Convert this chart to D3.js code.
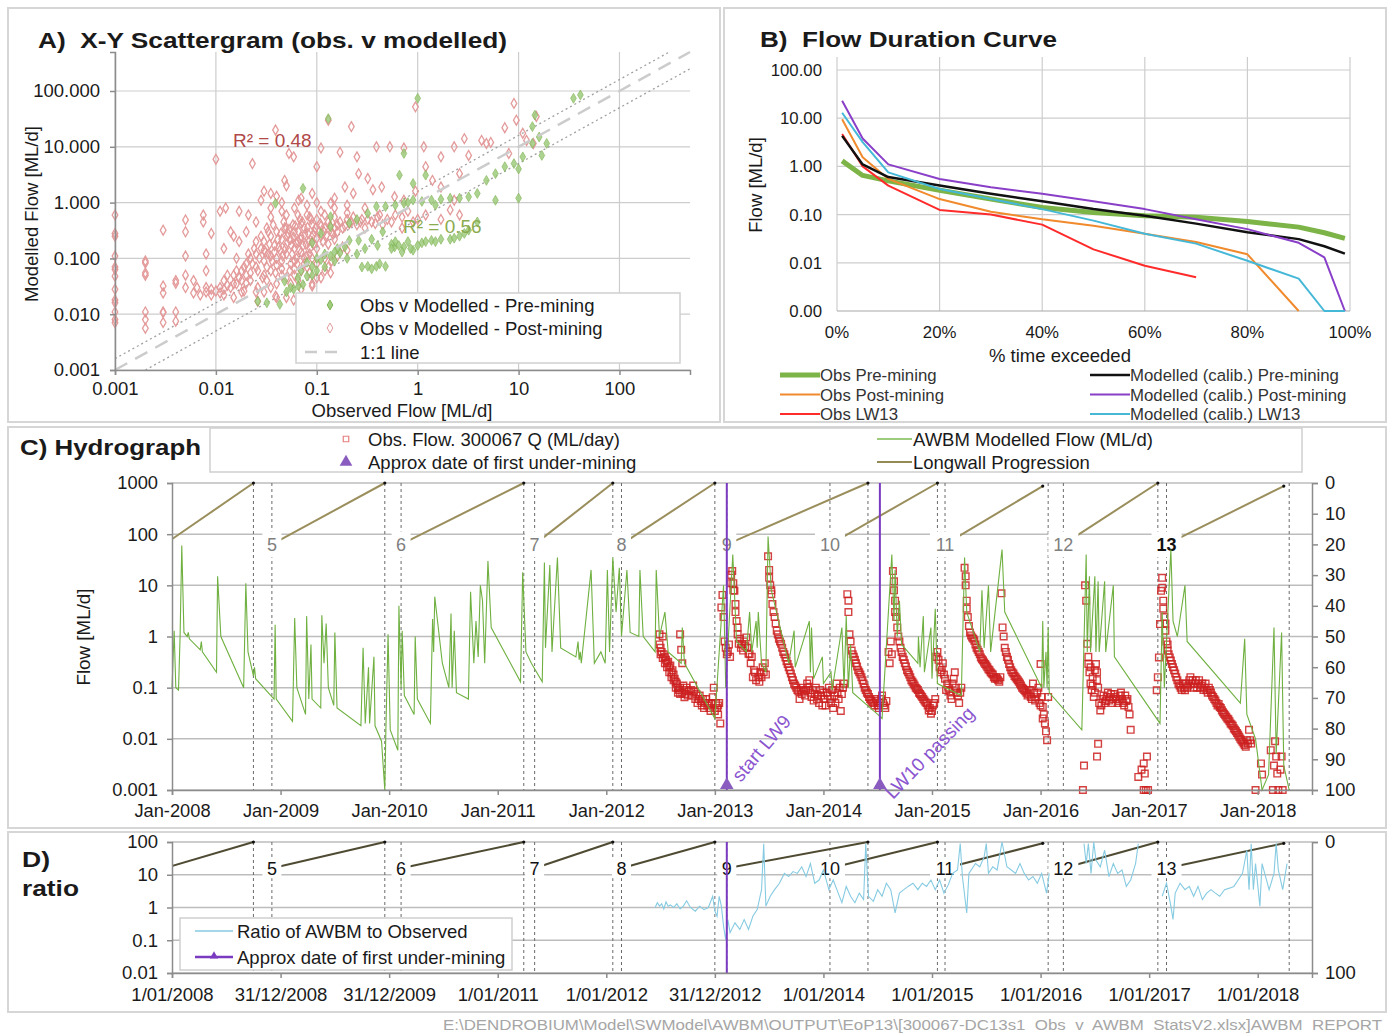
<!DOCTYPE html>
<html>
<head>
<meta charset="utf-8">
<script src="https://cdnjs.cloudflare.com/ajax/libs/d3/7.8.5/d3.min.js"></script>
<style>
  body { margin: 0; background: #fff; }
  svg { font-family: "Liberation Sans", Arial, sans-serif; }
  svg text { white-space: pre; }
</style>
</head>
<body>
<svg id="chart" width="1388" height="1033"></svg>
<script>
// ---------------- data ----------------
// A) scattergram [observed, modelled]
var scatterPre = [[0.026,0.017],[0.032,0.016],[0.043,0.015],[0.059,0.028],[0.066,0.032],[0.08,0.048],[0.09,0.072],[0.11,0.095],
  [0.137,0.11],[0.17,0.125],[0.19,0.16],[0.21,0.21],[0.26,0.21],[0.32,0.072],[0.39,0.072],[0.48,0.072],[0.59,0.16],[0.73,0.16],
  [0.9,0.14],[1.1,0.19],[1.37,0.21],[1.7,0.22],[2.1,0.22],[2.6,0.25],[3.2,0.32],[3.9,0.45],[0.11,0.28],[0.137,0.37],[0.21,0.43],
  [0.32,0.64],[0.48,0.85],[0.73,0.97],[0.9,1.11],[1.37,1.11],[2.1,1.2],[2.6,1.2],[3.2,1.27],[3.9,1.46],[4.8,2.5],[5.9,3.3],
  [7.3,4.4],[9,5],[11,6.6],[13.7,11.5],[16,15],[17,7],[19,11.5],[10,1.2],[5.9,1.1],[10,4],[13.7,23],[14.5,37],[35,74],[41,85],
  [1.0,74],[0.13,32],[0.73,7.6],[0.66,3.1],[1.2,3.1],[0.9,2.2],[0.39,0.85],[0.039,0.97],[0.073,1.8],[0.137,0.56],[0.09,0.19],
  [0.048,0.039],[0.073,0.034],[0.2,0.1],[0.25,0.12],[0.3,0.15],[0.15,0.09],[0.12,0.07],[0.6,0.2],[0.8,0.2],[1.0,0.17],[0.4,0.17],
  [0.55,0.18],[0.7,0.13],[0.09,0.05],[0.1,0.06],[0.16,0.15],[0.35,0.22],[0.45,0.3],[1.5,0.9],[0.25,0.5],[0.08,0.085],
  [0.1,0.1],[0.07,0.06],[0.065,0.045],[0.055,0.03],[0.05,0.025],[0.12,0.12],[0.15,0.13],[0.6,0.9],[0.8,1.0],[1.1,1.05],
  [1.7,1.15],[0.28,0.07],[0.35,0.065],[0.42,0.08],[0.55,0.15],[0.65,0.17],[0.85,0.15],[1.2,0.2],[1.5,0.2],[2.3,0.23],[2.9,0.28]];
var scatterPost = [[0.001,0.6],[0.001,0.28],[0.001,0.25],[0.001,0.11],[0.001,0.07],[0.001,0.063],[0.001,0.048],[0.001,0.028],
  [0.001,0.018],[0.001,0.016],[0.001,0.011],[0.001,0.008],[0.001,0.007],[0.002,0.09],[0.002,0.083],[0.002,0.05],[0.002,0.055],
  [0.002,0.011],[0.002,0.008],[0.002,0.0056],[0.003,0.32],[0.003,0.032],[0.003,0.024],[0.003,0.011],[0.003,0.0107],[0.003,0.0071],
  [0.004,0.04],[0.004,0.036],[0.004,0.011],[0.004,0.0075],[0.005,0.49],[0.005,0.11],[0.005,0.05],[0.005,0.03],[0.005,0.3],
  [0.006,0.024],[0.007,0.022],[0.008,0.025],[0.009,0.028],[0.0065,0.03],[0.01,0.026],[0.011,0.03],[0.012,0.028],[0.013,0.033],
  [0.014,0.03],[0.016,0.035],[0.018,0.04],[0.02,0.036],[0.0075,0.6],[0.0075,0.45],[0.009,0.28],[0.011,0.7],[0.01,6],[0.0125,0.8],
  [0.014,0.3],[0.017,0.2],[0.017,0.7],[0.021,0.6],[0.023,5.0],[0.015,0.05],[0.018,0.06],[0.02,0.08],[0.022,0.1],[0.025,0.12],
  [0.025,0.07],[0.028,0.15],[0.03,0.09],[0.03,0.2],[0.033,0.12],[0.035,0.25],[0.035,0.06],[0.038,0.17],[0.04,0.1],[0.04,0.3],
  [0.043,0.14],[0.045,0.22],[0.045,0.05],[0.048,0.35],[0.05,0.12],[0.05,0.18],[0.052,0.28],[0.055,0.08],[0.055,0.22],[0.058,0.4],
  [0.06,0.15],[0.06,0.3],[0.063,0.1],[0.065,0.2],[0.068,0.5],[0.07,0.25],[0.07,0.13],[0.075,0.35],[0.078,0.18],[0.08,0.6],
  [0.082,0.28],[0.085,0.12],[0.09,0.4],[0.09,0.2],[0.095,0.3],[0.1,0.5],[0.1,0.15],[0.11,0.25],[0.11,0.7],[0.12,0.35],[0.12,0.1],
  [0.13,0.45],[0.14,0.3],[0.15,0.55],[0.16,0.4],[0.18,0.35],[0.2,0.5],[0.22,0.45],[0.25,0.4],[0.28,0.5],[0.3,0.35],[0.35,0.45],
  [0.4,0.55],[0.45,0.4],[0.5,0.5],[0.6,0.6],[0.032,0.04],[0.04,0.035],[0.05,0.045],[0.06,0.05],[0.07,0.06],[0.08,0.07],[0.1,0.08],
  [0.12,0.06],[0.14,0.09],[0.026,0.03],[0.03,0.025],[0.04,0.02],[0.05,0.02],[0.07,0.028],[0.09,0.035],[0.11,0.045],[0.08,0.9],
  [0.06,0.8],[0.045,0.7],[0.035,0.55],[0.025,0.45],[0.02,0.3],[0.015,0.25],[0.025,0.2],[0.032,0.35],[0.028,1.1],[0.04,1.3],
  [0.05,2.0],[0.03,1.6],[0.045,1.0],[0.039,20],[0.053,7.6],[0.059,6.6],[0.13,30],[0.11,9.5],[0.17,8],[0.22,23],[0.25,6.6],
  [0.32,2.7],[0.39,10],[0.53,10],[0.73,9.5],[0.95,52],[1.15,10],[1.2,4.4],[1.7,6.6],[2.3,10],[2.9,14],[3.2,7],[4.3,13],[4.8,11.5],
  [5.3,12],[7.3,22],[8,7.6],[9,60],[9.5,30],[11,17.5],[12,13],[14,11.5],[15,35],[2.6,3.3],[2.3,1.1],[2.1,0.74],[1.7,1.9],[1.4,2.5],
  [0.95,1.6],[0.73,1.1],[0.59,1.27],[0.44,1.9],[0.36,1.7],[0.26,3.3],[0.23,1.46],[0.19,1.9],[0.137,0.97],[0.1,4.4],[0.09,1.46],
  [0.066,1.1],[0.048,2.5],[0.035,1.46],[0.039,0.021],[0.059,0.018],[0.09,0.032],[0.137,0.055],[0.026,0.017],[0.019,0.026],
  [2.6,0.6],[1.7,0.5],[0.7,0.35],[0.9,0.45],[1.2,0.6],[0.3,0.8],[0.2,0.9],[0.15,1.2],[0.065,0.6],[0.05,0.35],[0.07,0.42],
  [0.085,0.55],[0.11,0.38],[0.15,0.22],[0.18,0.16],[0.09,0.1],[0.075,0.08],[0.06,0.065],[0.045,0.09],[0.035,0.11],[0.03,0.14],
  [0.008,0.03],[0.009,0.022],[0.011,0.024],[0.012,0.04],[0.013,0.05],[0.015,0.035],[0.016,0.06],[0.017,0.045],[0.019,0.07],
  [0.02,0.05],[0.021,0.12],[0.022,0.04],[0.023,0.08],[0.024,0.15],[0.026,0.06],[0.027,0.1],[0.028,0.25],[0.029,0.045],
  [0.031,0.13],[0.032,0.07],[0.033,0.3],[0.034,0.18],[0.036,0.09],[0.037,0.4],[0.038,0.13],[0.039,0.055],[0.041,0.22],
  [0.042,0.16],[0.044,0.28],[0.046,0.11],[0.047,0.45],[0.049,0.15],[0.051,0.25],[0.053,0.33],[0.054,0.06],[0.056,0.17],
  [0.057,0.12],[0.059,0.24],[0.061,0.38],[0.062,0.19],[0.064,0.08],[0.066,0.3],[0.067,0.14],[0.069,0.22],[0.072,0.45],
  [0.073,0.17],[0.076,0.27],[0.079,0.11],[0.081,0.36],[0.083,0.2],[0.086,0.15],[0.088,0.5],[0.092,0.26],[0.094,0.18],
  [0.097,0.35],[0.1,0.23],[0.105,0.3],[0.108,0.42],[0.115,0.2],[0.118,0.3],[0.125,0.26],[0.13,0.18],[0.135,0.38],[0.145,0.27],
  [0.15,0.35],[0.16,0.3],[0.17,0.45],[0.19,0.38],[0.21,0.42],[0.23,0.55],[0.27,0.45],[0.32,0.5],[0.38,0.42],[0.42,0.6],
  [0.55,0.45],[0.7,0.55],[0.8,0.7],[1.0,0.5],[0.065,0.04],[0.085,0.055],[0.1,0.045],[0.13,0.07],[0.16,0.11],[0.2,0.14],
  [0.025,0.025],[0.035,0.03],[0.018,0.025],[0.055,0.035],[0.015,0.02],[0.012,0.022],[0.045,0.065],[0.06,0.09],[0.075,0.1],
  [0.04,0.075],[0.03,0.05],[0.022,0.055],[0.016,0.1],[0.012,0.15],[0.008,0.12],[0.008,0.06],[0.006,0.04],[0.1,1.0],[0.07,1.2],
  [0.15,0.8],[0.2,0.65],[0.12,0.6],[0.05,0.6],[0.035,0.8]];
var r2Labels = ['R² = 0.48', 'R² = 0.56'];

// B) flow duration curves
var fdcPct = [1, 5, 10, 20, 30, 40, 50, 60, 70, 80, 90, 95, 99];
var obsPre = [1.3, 0.65, 0.5, 0.32, 0.21, 0.14, 0.11, 0.095, 0.088, 0.072, 0.055, 0.042, 0.032];
var obsPost = [9.5, 1.55, 0.55, 0.21, 0.115, 0.08, 0.059, 0.04, 0.027, 0.015, 0, null, null];
var obsLW13 = [4.7, 1.0, 0.4, 0.125, 0.1, 0.062, 0.019, 0.0087, 0.005, null, null, null, null];
var modPre = [4.3, 1.1, 0.6, 0.4, 0.27, 0.19, 0.13, 0.095, 0.065, 0.043, 0.031, 0.022, 0.0155];
var modPost = [23, 3.8, 1.1, 0.55, 0.37, 0.27, 0.19, 0.13, 0.08, 0.05, 0.026, 0.013, 0];
var modLW13 = [13, 3.2, 0.75, 0.34, 0.21, 0.13, 0.075, 0.04, 0.025, 0.011, 0.0047, 0, 0];

// C) hydrograph [decimal year, ML/d]
var awbmFlow = [[2008.00,0.1],[2008.02,1.3],[2008.035,0.1],[2008.06,0.09],[2008.075,1.1],[2008.09,60],[2008.11,1.2],[2008.14,1.0],
  [2008.15,1.2],[2008.16,0.9],[2008.26,0.55],[2008.27,0.8],[2008.28,0.5],[2008.41,0.2],[2008.42,15],[2008.45,1.0],[2008.66,0.1],
  [2008.68,11],[2008.70,0.5],[2008.75,0.17],[2008.76,0.25],[2008.77,0.15],[2008.94,0.06],[2008.95,1.7],[2008.96,0.06],
  [2009.11,0.022],[2009.13,2.3],[2009.15,0.1],[2009.23,0.03],[2009.24,2.5],[2009.26,0.06],[2009.28,0.7],[2009.29,0.06],
  [2009.37,0.04],[2009.38,2.6],[2009.40,0.3],[2009.42,1.8],[2009.44,0.1],[2009.49,0.045],[2009.50,1.2],[2009.52,0.04],
  [2009.74,0.018],[2009.76,0.6],[2009.78,0.02],[2009.81,0.25],[2009.82,0.02],[2009.86,0.4],[2009.87,0.018],[2009.93,0.009],
  [2009.96,0.001],[2009.97,0.015],[2009.99,1.1],[2010.01,0.015],[2010.08,0.006],[2010.09,4],[2010.11,0.1],[2010.12,1.3],
  [2010.14,0.07],[2010.23,0.03],[2010.24,1.0],[2010.26,0.06],[2010.38,0.02],[2010.40,2.2],[2010.41,0.5],[2010.42,6],
  [2010.49,0.3],[2010.55,0.1],[2010.57,2.8],[2010.58,0.1],[2010.60,1.3],[2010.62,0.08],[2010.73,0.06],[2010.75,7.5],
  [2010.78,0.3],[2010.80,2],[2010.82,0.4],[2010.84,10],[2010.86,5],[2010.88,0.3],[2010.91,30],[2010.94,1.5],[2011.21,0.13],
  [2011.23,18],[2011.26,0.5],[2011.31,0.3],[2011.41,0.13],[2011.43,28],[2011.44,0.6],[2011.48,25],[2011.50,0.5],[2011.55,35],
  [2011.58,0.6],[2011.72,0.4],[2011.74,0.8],[2011.75,0.35],[2011.76,0.5],[2011.77,0.3],[2011.86,20],[2011.89,0.3],[2011.95,0.5],
  [2011.99,0.3],[2012.01,20],[2012.03,0.5],[2012.06,35],[2012.09,3],[2012.12,22],[2012.14,1.0],[2012.19,20],[2012.22,1.2],
  [2012.30,1.0],[2012.31,20],[2012.34,1.0],[2012.45,0.5],[2012.46,20],[2012.49,1.0],[2012.54,3],[2012.57,0.5],[2012.69,0.3],
  [2012.70,1.5],[2012.72,0.3],[2013.00,0.025],[2013.08,10],[2013.10,0.1],[2013.165,40],[2013.20,0.8],[2013.29,0.5],[2013.32,3],
  [2013.34,0.5],[2013.38,2],[2013.39,0.6],[2013.40,3],[2013.43,0.3],[2013.47,0.2],[2013.49,90],[2013.52,8],[2013.68,0.3],
  [2013.73,1.3],[2013.74,0.25],[2013.87,2],[2013.88,0.2],[2013.89,1.5],[2013.91,0.15],[2013.99,0.4],[2014.00,0.12],[2014.07,0.2],
  [2014.08,0.09],[2014.17,1.5],[2014.19,0.1],[2014.21,2.5],[2014.23,0.1],[2014.25,0.7],[2014.27,0.08],[2014.50,0.03],
  [2014.54,0.025],[2014.63,40],[2014.65,2],[2014.66,20],[2014.68,1],[2014.70,5],[2014.72,0.7],[2014.87,0.3],[2014.875,1],
  [2014.89,0.25],[2014.92,2.5],[2014.93,0.2],[2014.99,1.5],[2015.00,0.15],[2015.03,3.5],[2015.05,0.12],[2015.27,0.07],
  [2015.30,35],[2015.32,3],[2015.44,0.5],[2015.46,8],[2015.48,0.6],[2015.52,10],[2015.54,0.5],[2015.645,50],[2015.67,3],
  [2016.01,0.1],[2016.02,2],[2016.03,0.1],[2016.05,0.5],[2016.06,0.1],[2016.07,1.5],[2016.08,0.08],[2016.38,0.015],
  [2016.42,40],[2016.43,0.5],[2016.45,15],[2016.46,0.5],[2016.50,15],[2016.51,0.5],[2016.53,12],[2016.54,0.5],[2016.59,12],
  [2016.60,0.5],[2016.67,10],[2016.68,0.4],[2017.10,0.02],[2017.12,3],[2017.14,0.1],[2017.20,50],[2017.22,2],[2017.26,1],
  [2017.33,10],[2017.35,0.8],[2017.84,0.05],[2017.88,0.9],[2017.90,0.03],[2017.98,0.01],[2018.04,0.001],[2018.10,0.002],
  [2018.15,1.5],[2018.17,0.005],[2018.22,1.2],[2018.24,0.003],[2018.29,0.001]];

var obsFlow = [[2012.49,0.7],[2012.49,1.1],[2012.50,0.6],[2012.51,0.5],[2012.52,1.0],[2012.53,0.45],[2012.54,0.4],[2012.55,0.35],
  [2012.56,0.3],[2012.57,0.32],[2012.58,0.25],[2012.59,0.27],[2012.60,0.2],[2012.61,0.22],[2012.62,0.18],[2012.63,0.15],
  [2012.64,0.13],[2012.65,0.12],[2012.66,0.1],[2012.67,0.09],[2012.68,0.1],[2012.68,1.1],[2012.69,0.55],[2012.70,0.3],
  [2012.70,0.08],[2012.71,0.11],[2012.72,0.09],[2012.73,0.075],[2012.74,0.1],[2012.76,0.085],[2012.78,0.09],[2012.80,0.11],
  [2012.82,0.06],[2012.84,0.05],[2012.86,0.07],[2012.88,0.045],[2012.90,0.04],[2012.92,0.06],[2012.94,0.05],[2012.96,0.035],
  [2012.98,0.065],[2012.99,0.1],[2013.00,0.035],[2013.02,0.04],[2013.03,0.03],[2013.04,0.05],[2013.05,0.02],[2013.06,3.7],
  [2013.07,6.5],[2013.08,2.4],[2013.09,0.8],[2013.10,0.6],[2013.11,0.45],[2013.12,0.5],[2013.13,0.7],[2013.14,0.4],[2013.15,16],
  [2013.16,19],[2013.17,11],[2013.18,7.8],[2013.19,4.3],[2013.20,2.0],[2013.21,1.1],[2013.22,0.72],[2013.24,0.6],[2013.26,0.53],
  [2013.27,0.8],[2013.29,0.96],[2013.30,0.6],[2013.31,0.46],[2013.33,0.3],[2013.34,0.4],[2013.35,0.16],[2013.36,0.22],
  [2013.38,0.14],[2013.40,0.16],[2013.42,0.2],[2013.44,0.25],[2013.46,0.3],[2013.47,0.18],[2013.49,37],[2013.50,14],[2013.51,10],
  [2013.52,6.7],[2013.53,4.3],[2013.55,2.4],[2013.57,1.3],[2013.59,0.9],[2013.61,0.72],[2013.63,0.5],[2013.65,0.39],
  [2013.67,0.29],[2013.69,0.22],[2013.71,0.16],[2013.73,0.12],[2013.75,0.1],[2013.77,0.085],[2013.78,0.06],[2013.79,0.09],
  [2013.81,0.1],[2013.83,0.07],[2013.85,0.12],[2013.87,0.14],[2013.89,0.066],[2013.91,0.056],[2013.93,0.1],[2013.95,0.07],
  [2013.97,0.09],[2013.99,0.045],[2014.01,0.06],[2014.03,0.08],[2014.05,0.1],[2014.07,0.05],[2014.09,0.04],[2014.10,0.07],
  [2014.12,0.12],[2014.14,0.06],[2014.16,0.035],[2014.18,0.1],[2014.19,0.12],[2014.22,6.7],[2014.23,3.0],[2014.24,1.1],
  [2014.26,0.53],[2014.28,0.4],[2014.30,0.3],[2014.32,0.22],[2014.34,0.18],[2014.36,0.14],[2014.38,0.1],[2014.40,0.08],
  [2014.42,0.066],[2014.44,0.056],[2014.46,0.05],[2014.48,0.06],[2014.50,0.045],[2014.52,0.05],[2014.54,0.07],[2014.56,0.045],
  [2014.58,0.055],[2014.60,0.5],[2014.61,0.3],[2014.62,0.8],[2014.63,0.45],[2014.64,19],[2014.65,12],[2014.66,5],[2014.67,2.4],
  [2014.69,1.0],[2014.71,0.6],[2014.73,0.4],[2014.75,0.3],[2014.77,0.22],[2014.79,0.18],[2014.81,0.14],[2014.83,0.12],
  [2014.85,0.1],[2014.87,0.09],[2014.89,0.075],[2014.91,0.066],[2014.93,0.056],[2014.95,0.05],[2014.97,0.036],[2014.99,0.031],
  [2015.01,0.045],[2015.03,0.06],[2015.05,0.5],[2015.06,0.35],[2015.07,0.25],[2015.08,0.2],[2015.10,0.3],[2015.12,0.15],
  [2015.13,0.09],[2015.15,0.1],[2015.17,0.07],[2015.19,0.12],[2015.21,0.2],[2015.23,0.08],[2015.25,0.05],[2015.27,0.1],
  [2015.30,22],[2015.31,10],[2015.32,5],[2015.33,2.4],[2015.35,1.2],[2015.37,0.96],[2015.39,0.83],[2015.41,0.6],[2015.43,0.5],
  [2015.45,0.39],[2015.47,0.34],[2015.49,0.29],[2015.51,0.25],[2015.53,0.22],[2015.55,0.19],[2015.57,0.16],[2015.59,0.16],
  [2015.61,0.14],[2015.63,0.16],[2015.64,7],[2015.65,1.5],[2015.67,0.6],[2015.69,0.4],[2015.71,0.29],[2015.73,0.22],
  [2015.75,0.19],[2015.77,0.16],[2015.79,0.14],[2015.81,0.12],[2015.83,0.1],[2015.85,0.09],[2015.87,0.08],[2015.89,0.075],
  [2015.91,0.066],[2015.93,0.12],[2015.95,0.056],[2015.97,0.08],[2015.99,0.05],[2016.00,0.29],[2016.01,0.066],[2016.02,0.042],
  [2016.03,0.03],[2016.04,0.02],[2016.05,0.014],[2016.06,0.0094],[2016.07,0.066],[2016.39,0.001],[2016.40,0.003],[2016.41,10],
  [2016.42,5],[2016.43,0.72],[2016.44,0.29],[2016.45,0.2],[2016.46,0.12],[2016.47,0.09],[2016.48,0.16],[2016.49,0.066],
  [2016.50,0.22],[2016.51,0.29],[2016.52,0.14],[2016.53,0.1],[2016.53,0.008],[2016.52,0.0045],[2016.54,0.05],[2016.55,0.036],
  [2016.57,0.06],[2016.59,0.05],[2016.61,0.066],[2016.63,0.056],[2016.65,0.075],[2016.67,0.06],[2016.69,0.066],[2016.71,0.05],
  [2016.73,0.07],[2016.75,0.06],[2016.77,0.045],[2016.79,0.055],[2016.81,0.042],[2016.83,0.015],[2016.90,0.0018],
  [2016.93,0.0025],[2016.95,0.0033],[2016.96,0.0021],[2016.98,0.0045],[2016.95,0.001],[2016.97,0.001],[2016.99,0.001],
  [2017.07,0.089],[2017.08,0.16],[2017.09,0.39],[2017.10,1.75],[2017.11,7.8],[2017.12,14],[2017.13,5],[2017.14,2.4],
  [2017.15,1.3],[2017.16,0.8],[2017.17,0.53],[2017.19,0.39],[2017.21,0.29],[2017.23,0.22],[2017.25,0.16],[2017.27,0.12],
  [2017.29,0.1],[2017.31,0.12],[2017.33,0.089],[2017.35,0.1],[2017.37,0.14],[2017.39,0.12],[2017.41,0.1],[2017.43,0.14],
  [2017.45,0.12],[2017.47,0.1],[2017.49,0.12],[2017.51,0.1],[2017.53,0.089],[2017.55,0.1],[2017.57,0.08],[2017.59,0.066],
  [2017.61,0.056],[2017.63,0.045],[2017.65,0.042],[2017.67,0.036],[2017.69,0.031],[2017.71,0.027],[2017.73,0.024],
  [2017.75,0.02],[2017.77,0.018],[2017.79,0.015],[2017.81,0.013],[2017.83,0.011],[2017.85,0.0094],[2017.87,0.0081],
  [2017.89,0.007],[2017.91,0.0081],[2017.92,0.015],[2017.93,0.0094],[2017.98,0.001],[2018.03,0.0033],[2018.04,0.002],
  [2018.12,0.006],[2018.15,0.003],[2018.16,0.009],[2018.17,0.0045],[2018.18,0.0021],[2018.19,0.001],[2018.14,0.001],
  [2018.21,0.0025],[2018.23,0.001],[2018.22,0.0045],
  [2012.50,0.45],[2012.52,0.38],[2012.54,0.3],[2012.56,0.25],[2012.58,0.2],[2012.60,0.16],[2012.62,0.14],[2012.64,0.1],
  [2012.66,0.08],[2012.68,0.075],[2012.72,0.065],[2012.75,0.07],[2012.79,0.07],[2012.81,0.085],[2012.83,0.075],[2012.85,0.06],
  [2012.87,0.055],[2012.89,0.06],[2012.91,0.05],[2012.93,0.045],[2012.95,0.04],[2012.97,0.05],[2013.01,0.05],[2013.03,0.045],
  [2013.15,11],[2013.17,8],[2013.19,3],[2013.21,1.5],[2013.23,0.9],[2013.25,0.7],[2013.28,0.65],[2013.32,0.45],[2013.37,0.2],
  [2013.41,0.13],[2013.43,0.16],[2013.45,0.2],[2013.50,20],[2013.52,8],[2013.54,3],[2013.56,1.8],[2013.58,1.1],[2013.60,0.8],
  [2013.62,0.6],[2013.64,0.45],[2013.66,0.33],[2013.68,0.25],[2013.70,0.19],[2013.72,0.14],[2013.74,0.11],[2013.76,0.09],
  [2013.80,0.075],[2013.82,0.085],[2013.84,0.09],[2013.86,0.1],[2013.88,0.08],[2013.90,0.09],[2013.92,0.075],[2013.94,0.06],
  [2013.96,0.05],[2013.98,0.07],[2014.00,0.08],[2014.02,0.045],[2014.04,0.07],[2014.06,0.06],[2014.08,0.09],[2014.11,0.05],
  [2014.13,0.08],[2014.15,0.1],[2014.17,0.075],[2014.23,5],[2014.25,0.8],[2014.27,0.45],[2014.29,0.35],[2014.31,0.26],
  [2014.33,0.2],[2014.35,0.16],[2014.37,0.12],[2014.39,0.09],[2014.41,0.075],[2014.43,0.06],[2014.45,0.052],[2014.47,0.045],
  [2014.49,0.055],[2014.51,0.04],[2014.53,0.06],[2014.55,0.05],[2014.57,0.04],[2014.65,8],[2014.66,3],[2014.68,1.5],
  [2014.70,0.8],[2014.72,0.5],[2014.74,0.35],[2014.76,0.26],[2014.78,0.2],[2014.80,0.16],[2014.82,0.13],[2014.84,0.11],
  [2014.86,0.095],[2014.88,0.08],[2014.90,0.07],[2014.92,0.06],[2014.94,0.052],[2014.96,0.045],[2014.98,0.04],[2015.00,0.035],
  [2015.02,0.05],[2015.04,0.4],[2015.09,0.22],[2015.11,0.18],[2015.14,0.12],[2015.16,0.085],[2015.18,0.06],[2015.20,0.15],
  [2015.22,0.1],[2015.24,0.07],[2015.26,0.08],[2015.31,15],[2015.32,3.5],[2015.34,1.6],[2015.36,1.05],[2015.38,0.9],
  [2015.40,0.7],[2015.42,0.55],[2015.44,0.45],[2015.46,0.36],[2015.48,0.31],[2015.50,0.27],[2015.52,0.23],[2015.54,0.2],
  [2015.56,0.18],[2015.58,0.15],[2015.60,0.15],[2015.62,0.13],[2015.66,1.0],[2015.68,0.5],[2015.70,0.35],[2015.72,0.25],
  [2015.74,0.2],[2015.76,0.17],[2015.78,0.15],[2015.80,0.13],[2015.82,0.11],[2015.84,0.095],[2015.86,0.085],[2015.88,0.07],
  [2015.90,0.09],[2015.92,0.06],[2015.94,0.08],[2015.96,0.065],[2015.98,0.1],[2016.00,0.045],[2016.02,0.025],[2016.44,0.4],
  [2016.46,0.25],[2016.48,0.11],[2016.50,0.08],[2016.52,0.2],[2016.56,0.045],[2016.58,0.07],[2016.60,0.055],[2016.62,0.08],
  [2016.64,0.065],[2016.66,0.05],[2016.68,0.075],[2016.70,0.06],[2016.72,0.055],[2016.74,0.08],[2016.76,0.05],[2016.78,0.07],
  [2016.80,0.06],[2016.82,0.03],[2017.12,9],[2017.13,3.5],[2017.15,1.8],[2017.17,0.7],[2017.18,0.45],[2017.20,0.34],
  [2017.22,0.25],[2017.24,0.19],[2017.26,0.14],[2017.28,0.11],[2017.30,0.09],[2017.32,0.1],[2017.34,0.12],[2017.36,0.11],
  [2017.38,0.16],[2017.40,0.14],[2017.42,0.12],[2017.44,0.1],[2017.46,0.14],[2017.48,0.11],[2017.50,0.09],[2017.52,0.12],
  [2017.54,0.08],[2017.56,0.09],[2017.58,0.07],[2017.60,0.06],[2017.62,0.05],[2017.64,0.048],[2017.66,0.04],[2017.68,0.033],
  [2017.70,0.029],[2017.72,0.025],[2017.74,0.022],[2017.76,0.019],[2017.78,0.016],[2017.80,0.014],[2017.82,0.012],
  [2017.84,0.01],[2017.86,0.0088],[2017.88,0.0075],[2017.90,0.0094],[2017.94,0.0081]];

// longwall progression (distance on right axis, 0 = finished)
var lwNames = ['4', '5', '6', '7', '8', '9', '10', '11', '12', '13'];
var lwStart = [2007.93, 2008.92, 2010.11, 2011.34, 2012.14, 2013.11, 2014.06, 2015.12, 2016.21, 2017.16];
var lwEnd = [2008.75, 2009.96, 2011.24, 2012.06, 2013.00, 2014.41, 2015.05, 2016.07, 2017.08, 2018.29];
var lwFromDist = [20, 20, 20, 20, 20, 20, 20, 20, 20, 20];
var lwToDist = [0, 0, 0, 0, 0, 0, 0, 1, 0, 1];
var underMining = [2013.11, 2014.52];
var underMiningText = ['start LW9', 'LW10 passing'];

// D) ratio of AWBM to observed (null = gap)
var ratio = [[2012.45,1.0],[2012.47,1.4],[2012.49,1.1],[2012.51,1.3],[2012.53,0.9],[2012.55,1.5],[2012.57,1.1],[2012.59,1.2],
  [2012.62,1.0],[2012.65,1.3],[2012.68,0.9],[2012.71,1.1],[2012.74,1.6],[2012.775,1.0],[2012.82,0.77],[2012.86,1.1],[2012.90,0.86],
  [2012.94,1.0],[2012.98,2.2],[2013.00,0.77],[2013.02,0.54],[2013.04,2.2],[2013.06,1.1],[2013.08,0.27],[2013.10,0.105],
  [2013.12,0.43],[2013.14,0.17],[2013.185,0.34],[2013.23,0.215],[2013.27,0.43],[2013.31,0.215],[2013.35,0.54],[2013.39,0.86],
  [2013.43,3.5],[2013.45,89],[2013.47,1.1],[2013.51,2.2],[2013.55,3.5],[2013.595,5.5],[2013.64,11],[2013.68,8.8],[2013.72,12.5],
  [2013.76,11],[2013.80,17.5],[2013.84,8.8],[2013.88,22],[2013.92,5.5],[2013.96,6.9],[2014.00,14],[2014.05,3.5],[2014.09,6.9],
  [2014.13,3.1],[2014.17,1.4],[2014.21,4.4],[2014.25,2.2],[2014.29,1.4],[2014.33,2.75],[2014.37,1.74],[2014.39,89],[2014.415,2.2],
  [2014.46,1.55],[2014.50,3.5],[2014.54,2.2],[2014.58,5.5],[2014.62,3.5],[2014.66,0.68],[2014.70,2.75],[2014.74,3.5],
  [2014.78,4.4],[2014.825,5.5],[2014.87,3.5],[2014.91,5.5],[2014.95,4.4],[2014.99,6.9],[2015.03,3.5],[2015.07,6.9],
  [2015.11,2.75],[2015.15,4.9],[2015.19,11],[2015.235,14],[2015.26,89],[2015.28,8.8],[2015.32,0.68],[2015.34,11],[2015.40,22],
  [2015.44,17.5],[2015.48,35],[2015.50,89],[2015.52,11],[2015.56,17.5],[2015.60,14],[2015.645,100],[2015.69,17.5],[2015.73,14],
  [2015.77,11],[2015.81,22],[2015.85,11],[2015.89,6.9],[2015.93,8.8],[2015.97,5.5],[2016.01,11],[2016.055,2.75],[2016.08,11],
  [2016.2,null],[2016.40,89],[2016.42,22],[2016.44,89],[2016.465,11],[2016.49,100],[2016.51,28],[2016.55,17.5],[2016.59,56],
  [2016.63,8.8],[2016.67,22],[2016.71,11],[2016.75,14],[2016.79,4.4],[2016.83,6.9],[2016.875,22],[2016.90,89],[2017.0,null],
  [2017.12,2.2],[2017.16,5.5],[2017.20,1.1],[2017.22,0.43],[2017.24,2.75],[2017.285,5.5],[2017.33,3.5],[2017.37,4.4],
  [2017.41,2.2],[2017.45,4.4],[2017.49,1.74],[2017.53,2.75],[2017.57,3.5],[2017.61,2.75],[2017.65,2.2],[2017.695,3.5],
  [2017.74,3.9],[2017.78,4.4],[2017.82,6.9],[2017.86,11],[2017.90,56],[2017.92,3.5],[2017.94,89],[2017.96,3.5],[2017.98,22],
  [2018.02,1.1],[2018.04,22],[2018.105,3.5],[2018.15,11],[2018.17,89],[2018.19,14],[2018.23,3.5],[2018.27,22]];

var hydroYears = [2008, 2009, 2010, 2011, 2012, 2013, 2014, 2015, 2016, 2017, 2018];
var hydroTickLabels = ['Jan-2008', 'Jan-2009', 'Jan-2010', 'Jan-2011', 'Jan-2012', 'Jan-2013', 'Jan-2014', 'Jan-2015',
  'Jan-2016', 'Jan-2017', 'Jan-2018'];
var ratioTickLabels = ['1/01/2008', '31/12/2008', '31/12/2009', '1/01/2011', '1/01/2012', '31/12/2012', '1/01/2014',
  '1/01/2015', '1/01/2016', '1/01/2017', '1/01/2018'];
var footer = 'E:\\DENDROBIUM\\Model\\SWModel\\AWBM\\OUTPUT\\EoP13\\[300067-DC13s1  Obs  v  AWBM  StatsV2.xlsx]AWBM  REPORT';

// ---------------- drawing ----------------
var svg = d3.select('#chart');
svg.append('rect').attr('width', 1388).attr('height', 1033).attr('fill', '#fff');

var GRID = '#cdcdcd';
var AXIS = '#8c8c8c';
var FS = 18.5;   // general text size

// panel frames
[[8, 8, 712, 414], [724, 8, 662, 414], [8, 427, 1378, 401], [8, 832, 1378, 180]].forEach(function (p) {
  svg.append('rect').attr('x', p[0]).attr('y', p[1]).attr('width', p[2]).attr('height', p[3])
    .attr('fill', 'none').attr('stroke', '#d6d6d6').attr('stroke-width', 2);
});

function label(x, y, s, size, opts) {
  opts = opts || {};
  var t = svg.append('text').attr('x', x).attr('y', y).text(s)
    .attr('font-size', size).attr('fill', opts.fill || '#1a1a1a')
    .attr('text-anchor', opts.anchor || 'start');
  if (opts.bold) t.attr('font-weight', 'bold');
  if (opts.len) t.attr('textLength', opts.len).attr('lengthAdjust', 'spacingAndGlyphs');
  if (opts.rotate) t.attr('transform', 'rotate(' + opts.rotate + ',' + x + ',' + y + ')');
  return t;
}

function styleAxis(g, size) {
  g.select('.domain').attr('stroke', AXIS).attr('stroke-width', 1.5);
  g.selectAll('.tick line').attr('stroke', AXIS).attr('stroke-width', 1.5);
  g.selectAll('.tick text').attr('font-size', size).attr('fill', '#1a1a1a')
    .attr('font-family', '"Liberation Sans", Arial, sans-serif');
}

// ===== Panel A =====
var ax = d3.scaleLog().domain([0.001, 500]).range([115, 690]);
var ay = d3.scaleLog().domain([0.001, 500]).range([370, 52]);
var decA = [0.001, 0.01, 0.1, 1, 10, 100];
var gA = svg.append('g');
gA.selectAll('.vg').data(decA).join('line')
  .attr('x1', d => ax(d)).attr('x2', d => ax(d)).attr('y1', 52).attr('y2', 370)
  .attr('stroke', GRID).attr('stroke-width', 1.2);
gA.selectAll('.hg').data(decA).join('line')
  .attr('x1', 115).attr('x2', 690).attr('y1', d => ay(d)).attr('y2', d => ay(d))
  .attr('stroke', GRID).attr('stroke-width', 1.2);

var lineA = d3.line().x(d => ax(d[0])).y(d => ay(d[1]));
gA.append('path').attr('d', lineA([[0.002, 0.001], [500, 250]]))
  .attr('stroke', '#a0a0a0').attr('stroke-width', 1.3).attr('stroke-dasharray', '2,3').attr('fill', 'none');
gA.append('path').attr('d', lineA([[0.001, 0.0016], [312, 500]]))
  .attr('stroke', '#a0a0a0').attr('stroke-width', 1.3).attr('stroke-dasharray', '2,3').attr('fill', 'none');

var diamond = d3.symbol().type(d3.symbolDiamond).size(28);
gA.selectAll('.post').data(scatterPost).join('path')
  .attr('d', diamond).attr('transform', d => 'translate(' + ax(d[0]) + ',' + ay(d[1]) + ')')
  .attr('fill', 'none').attr('stroke', '#e49a9a').attr('stroke-width', 1.3);
gA.selectAll('.pre').data(scatterPre).join('path')
  .attr('d', diamond).attr('transform', d => 'translate(' + ax(d[0]) + ',' + ay(d[1]) + ')')
  .attr('fill', '#9fcc7e').attr('stroke', '#7fb452').attr('stroke-width', 0.8).attr('opacity', 0.85);

gA.append('path').attr('d', lineA([[0.001, 0.001], [500, 500]]))
  .attr('stroke', '#cccccc').attr('stroke-width', 2.5).attr('stroke-dasharray', '14,9').attr('fill', 'none');

var gAx = gA.append('g').attr('transform', 'translate(0,370)')
  .call(d3.axisBottom(ax).tickValues(decA).tickFormat(d3.format('~g')).tickSize(5).tickPadding(7));
styleAxis(gAx, FS);
var gAy = gA.append('g').attr('transform', 'translate(115,0)')
  .call(d3.axisLeft(ay).tickValues(decA).tickFormat(d3.format('.3f')).tickSize(5).tickPadding(10));
styleAxis(gAy, FS);

label(38, 48, 'A)  X-Y Scattergram (obs. v modelled)', 22, { bold: true, len: 469 });
label(38, 214, 'Modelled Flow [ML/d]', FS, { anchor: 'middle', rotate: -90 });
label(402, 417, 'Observed Flow [ML/d]', FS, { anchor: 'middle' });
label(233, 147, r2Labels[0], 19, { fill: '#b04848' });
label(403, 233, r2Labels[1], 19, { fill: '#8cab4e' });

// legend A
gA.append('rect').attr('x', 296).attr('y', 293).attr('width', 384).attr('height', 70)
  .attr('fill', '#fff').attr('stroke', '#d0d0d0').attr('stroke-width', 1.5);
gA.append('path').attr('d', diamond).attr('transform', 'translate(330,305)')
  .attr('fill', '#9fcc7e').attr('stroke', '#7fb452');
gA.append('path').attr('d', diamond).attr('transform', 'translate(330,328)')
  .attr('fill', 'none').attr('stroke', '#e49a9a');
gA.append('line').attr('x1', 305).attr('x2', 345).attr('y1', 352).attr('y2', 352)
  .attr('stroke', '#cccccc').attr('stroke-width', 2.5).attr('stroke-dasharray', '12,8');
label(360, 312, 'Obs v Modelled - Pre-mining', FS);
label(360, 335, 'Obs v Modelled - Post-mining', FS);
label(360, 359, '1:1 line', FS);

// ===== Panel B =====
var bx = d3.scaleLinear().domain([0, 100]).range([837, 1350]);
var by = d3.scaleLog().domain([0.001, 100]).range([311, 70]);
var decB = [0.001, 0.01, 0.1, 1, 10, 100];
var pctB = [0, 20, 40, 60, 80, 100];
var gB = svg.append('g');
gB.selectAll('.vg').data(pctB).join('line')
  .attr('x1', d => bx(d)).attr('x2', d => bx(d)).attr('y1', 57).attr('y2', 311)
  .attr('stroke', GRID).attr('stroke-width', 1.2);
gB.selectAll('.hg').data(decB).join('line')
  .attr('x1', 837).attr('x2', 1350).attr('y1', d => by(d)).attr('y2', d => by(d))
  .attr('stroke', d => d === 0.001 ? '#a8a8a8' : GRID).attr('stroke-width', 1.2);

var fdc = [
  { name: 'Obs Pre-mining', vals: obsPre, color: '#7cb447', w: 5 },
  { name: 'Obs Post-mining', vals: obsPost, color: '#f08a2c', w: 2 },
  { name: 'Obs LW13', vals: obsLW13, color: '#ff2a2a', w: 2 },
  { name: 'Modelled (calib.) Pre-mining', vals: modPre, color: '#111111', w: 2.5 },
  { name: 'Modelled (calib.) Post-mining', vals: modPost, color: '#8a3fc8', w: 2 },
  { name: 'Modelled (calib.) LW13', vals: modLW13, color: '#45b8d8', w: 2 }
];
var lineB = d3.line().defined(d => d[1] !== null)
  .x(d => bx(d[0])).y(d => by(Math.max(d[1], 0.001)));
fdc.forEach(function (s) {
  gB.append('path').attr('d', lineB(fdcPct.map((p, i) => [p, s.vals[i]])))
    .attr('fill', 'none').attr('stroke', s.color).attr('stroke-width', s.w).attr('stroke-linejoin', 'round');
});
gB.selectAll('.yl').data(decB).join('text')
  .attr('x', 822).attr('y', d => by(d) + 6).attr('text-anchor', 'end').attr('font-size', 16.8)
  .attr('fill', '#1a1a1a').text(d3.format('.2f'));
gB.selectAll('.xl').data(pctB).join('text')
  .attr('x', d => bx(d)).attr('y', 338).attr('text-anchor', 'middle').attr('font-size', 16.8)
  .attr('fill', '#1a1a1a').text(d => d + '%');

label(760, 47, 'B)  Flow Duration Curve', 22, { bold: true, len: 297 });
label(762, 185, 'Flow [ML/d]', FS, { anchor: 'middle', rotate: -90 });
label(1060, 362, '% time exceeded', FS, { anchor: 'middle' });

fdc.forEach(function (s, i) {
  var col = i < 3 ? 0 : 1, row = i % 3;
  var x0 = col ? 1090 : 780, y0 = 375 + row * 19.5;
  gB.append('line').attr('x1', x0).attr('x2', x0 + 40).attr('y1', y0).attr('y2', y0)
    .attr('stroke', s.color).attr('stroke-width', s.w);
  label(x0 + 40, y0 + 6, s.name, 16.8, { fill: '#333' });
});

// ===== Panel C =====
var cx = d3.scaleLinear().domain([2008, 2018.5]).range([172, 1312]);
var cy = d3.scaleLog().domain([0.001, 1000]).range([790, 483]);
var cyR = d3.scaleLinear().domain([0, 100]).range([483, 790]);
var decC = [0.001, 0.01, 0.1, 1, 10, 100, 1000];

svg.append('clipPath').attr('id', 'clipC').append('rect')
  .attr('x', 172).attr('y', 470).attr('width', 1140).attr('height', 330);
svg.append('clipPath').attr('id', 'clipD').append('rect')
  .attr('x', 172).attr('y', 835).attr('width', 1140).attr('height', 145);

var gC = svg.append('g');
gC.selectAll('.hg').data(decC).join('line')
  .attr('x1', 172).attr('x2', 1312).attr('y1', d => cy(d)).attr('y2', d => cy(d))
  .attr('stroke', '#bdbdbd').attr('stroke-width', 1.5);

function drawLongwalls(g, xs, yTop, yBot, yDist, clipId, lwColor, labelColor, bold13, fontSize, boxH) {
  var dashX = [];
  lwStart.forEach(function (s, i) { if (i > 0) dashX.push(s); });
  lwEnd.forEach(function (e) { dashX.push(e); });
  g.selectAll('.dash').data(dashX).join('line')
    .attr('x1', d => xs(d)).attr('x2', d => xs(d)).attr('y1', yTop).attr('y2', yBot)
    .attr('stroke', '#6a6a6a').attr('stroke-width', 1).attr('stroke-dasharray', '3,3');
  var lw = g.append('g').attr('clip-path', 'url(#' + clipId + ')');
  lwNames.forEach(function (n, i) {
    var xe = xs(lwEnd[i] - (lwToDist[i] ? 0.05 : 0));
    lw.append('line')
      .attr('x1', xs(lwStart[i])).attr('y1', yDist(lwFromDist[i]))
      .attr('x2', xe).attr('y2', yDist(lwToDist[i]))
      .attr('stroke', lwColor).attr('stroke-width', 2);
    lw.append('circle').attr('cx', xe).attr('cy', yDist(lwToDist[i])).attr('r', 1.6).attr('fill', '#111');
    if (lwStart[i] < 2008) return;
    var w = n.length * 11 + 8;
    g.append('rect').attr('x', xs(lwStart[i]) - w / 2).attr('y', yDist(lwFromDist[i]) - boxH / 2)
      .attr('width', w).attr('height', boxH).attr('fill', '#fff');
    g.append('text').attr('x', xs(lwStart[i])).attr('y', yDist(lwFromDist[i]) + fontSize * 0.36)
      .attr('text-anchor', 'middle').attr('font-size', fontSize)
      .attr('font-weight', bold13 && n === '13' ? 'bold' : 'normal')
      .attr('fill', bold13 && n === '13' ? '#111' : labelColor).text(n);
  });
}
drawLongwalls(gC, cx, 483, 790, cyR, 'clipC', '#9a8e5c', '#7f7f7f', true, 18, 26);

// observed squares and modelled line
var square = d3.symbol().type(d3.symbolSquare).size(44);
gC.append('g').selectAll('path').data(obsFlow).join('path')
  .attr('d', square).attr('transform', d => 'translate(' + cx(d[0]) + ',' + cy(d[1]) + ')')
  .attr('fill', 'none').attr('stroke', '#cc2020').attr('stroke-width', 1.4).attr('stroke-opacity', 0.85);
gC.append('path').datum(awbmFlow)
  .attr('d', d3.line().x(d => cx(d[0])).y(d => cy(d[1])))
  .attr('fill', 'none').attr('stroke', '#6fb040').attr('stroke-width', 1.1);

// under-mining markers
var tri = d3.symbol().type(d3.symbolTriangle).size(80);
underMining.forEach(function (u) {
  gC.append('line').attr('x1', cx(u)).attr('x2', cx(u)).attr('y1', 483).attr('y2', 790)
    .attr('stroke', '#7a3bc0').attr('stroke-width', 2);
  gC.append('path').attr('d', tri).attr('transform', 'translate(' + cx(u) + ',785)').attr('fill', '#8a5cc0');
});
label(cx(underMining[0]) + 14, 783, underMiningText[0], 19, { fill: '#8b55d0', rotate: -50 });
label(cx(underMining[1]) + 13, 800, underMiningText[1], 19, { fill: '#8b55d0', rotate: -46 });

var gCx = gC.append('g').attr('transform', 'translate(0,790)')
  .call(d3.axisBottom(cx).tickValues(hydroYears).tickFormat((d, i) => hydroTickLabels[i]).tickSize(5).tickPadding(9));
styleAxis(gCx, 18.3);
var gCy = gC.append('g').attr('transform', 'translate(172,0)')
  .call(d3.axisLeft(cy).tickValues(decC).tickFormat(d3.format('~g')).tickSize(5).tickPadding(9));
styleAxis(gCy, 18.3);
var gCr = gC.append('g').attr('transform', 'translate(1312,0)')
  .call(d3.axisRight(cyR).tickValues(d3.range(0, 101, 10)).tickSize(6).tickPadding(7));
styleAxis(gCr, 18.3);

label(20, 455, 'C) Hydrograph', 22, { bold: true, len: 181 });
label(90, 637, 'Flow [ML/d]', 18.8, { anchor: 'middle', rotate: -90 });

// legend C
gC.append('rect').attr('x', 210).attr('y', 428).attr('width', 1092).attr('height', 44)
  .attr('fill', '#fff').attr('stroke', '#cfcfcf').attr('stroke-width', 1.5);
gC.append('path').attr('d', d3.symbol().type(d3.symbolSquare).size(30)).attr('transform', 'translate(346,439)')
  .attr('fill', 'none').attr('stroke', '#e88080').attr('stroke-width', 1.2);
gC.append('path').attr('d', d3.symbol().type(d3.symbolTriangle).size(70)).attr('transform', 'translate(346,462)')
  .attr('fill', '#8a5cc0');
label(368, 446, 'Obs. Flow. 300067 Q (ML/day)', FS);
label(368, 469, 'Approx date of first under-mining', FS);
gC.append('line').attr('x1', 877).attr('x2', 912).attr('y1', 439).attr('y2', 439).attr('stroke', '#7cbd50').attr('stroke-width', 1.5);
gC.append('line').attr('x1', 877).attr('x2', 912).attr('y1', 462).attr('y2', 462).attr('stroke', '#948a54').attr('stroke-width', 2);
label(913, 446, 'AWBM Modelled Flow (ML/d)', FS);
label(913, 469, 'Longwall Progression', FS);

// ===== Panel D =====
var dx = cx;
var dy = d3.scaleLog().domain([0.01, 100]).range([973, 842]);
var dyR = d3.scaleLinear().domain([0, 100]).range([842, 973]);
var decD = [0.01, 0.1, 1, 10, 100];
var gD = svg.append('g');
gD.selectAll('.hg').data(decD).join('line')
  .attr('x1', 172).attr('x2', 1312).attr('y1', d => dy(d)).attr('y2', d => dy(d))
  .attr('stroke', '#bdbdbd').attr('stroke-width', 1.5);
drawLongwalls(gD, dx, 842, 973, dyR, 'clipD', '#4f4b33', '#111', false, 18, 20);

gD.append('path').datum(ratio)
  .attr('d', d3.line().defined(d => d[1] !== null).x(d => dx(d[0])).y(d => dy(d[1])))
  .attr('fill', 'none').attr('stroke', '#86cbe2').attr('stroke-width', 1.1);
gD.append('line').attr('x1', dx(underMining[0])).attr('x2', dx(underMining[0])).attr('y1', 842).attr('y2', 973)
  .attr('stroke', '#7a3bc0').attr('stroke-width', 2);

var gDx = gD.append('g').attr('transform', 'translate(0,973)')
  .call(d3.axisBottom(dx).tickValues(hydroYears).tickFormat((d, i) => ratioTickLabels[i]).tickSize(5).tickPadding(10));
styleAxis(gDx, FS);
var gDy = gD.append('g').attr('transform', 'translate(172,0)')
  .call(d3.axisLeft(dy).tickValues(decD).tickFormat(d3.format('~g')).tickSize(5).tickPadding(9));
styleAxis(gDy, FS);
var gDr = gD.append('g').attr('transform', 'translate(1312,0)')
  .call(d3.axisRight(dyR).tickValues([0, 100]).tickSize(6).tickPadding(7));
styleAxis(gDr, FS);

label(22, 867, 'D)', 22, { bold: true, len: 28 });
label(22, 896, 'ratio', 22, { bold: true, len: 57 });

gD.append('rect').attr('x', 180).attr('y', 918).attr('width', 332).attr('height', 52)
  .attr('fill', '#fff').attr('stroke', '#cfcfcf').attr('stroke-width', 1.5);
gD.append('line').attr('x1', 195).attr('x2', 233).attr('y1', 931).attr('y2', 931).attr('stroke', '#86cbe2').attr('stroke-width', 1.5);
gD.append('line').attr('x1', 195).attr('x2', 233).attr('y1', 957).attr('y2', 957).attr('stroke', '#7a3bc0').attr('stroke-width', 2.5);
gD.append('path').attr('d', d3.symbol().type(d3.symbolTriangle).size(30)).attr('transform', 'translate(214,956)')
  .attr('fill', '#7a3bc0');
label(237, 938, 'Ratio of AWBM to Observed', FS);
label(237, 964, 'Approx date of first under-mining', FS);

// footer path
label(1382, 1030, footer, 15, { anchor: 'end', fill: '#a6a6a6', len: 939 });
</script>
</body>
</html>
